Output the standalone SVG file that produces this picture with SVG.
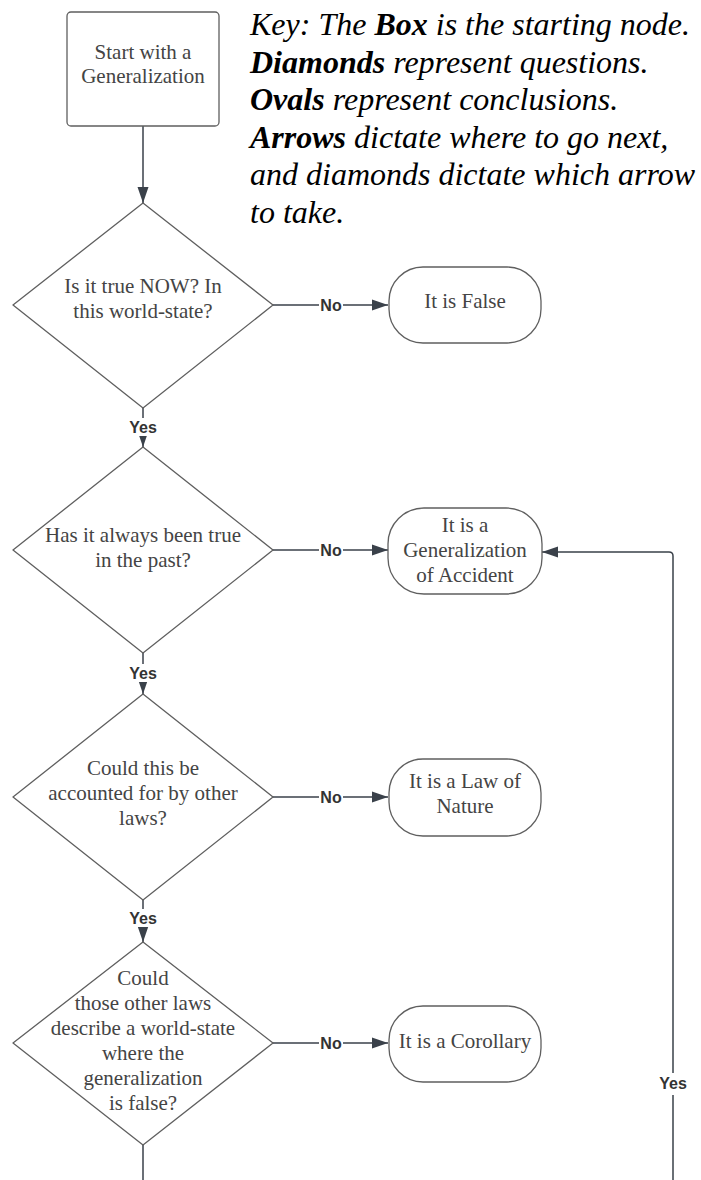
<svg xmlns="http://www.w3.org/2000/svg" width="701" height="1180" viewBox="0 0 701 1180">
<defs>
<style>
.shape{fill:#fff;stroke:#5f5f5f;stroke-width:1.3;stroke-linejoin:round}
.nt{font-family:"Liberation Serif","Times New Roman",serif;font-size:21px;fill:#444;text-anchor:middle}
.conn{fill:none;stroke:#3a414a;stroke-width:1.5}
.lbl{font-family:"Liberation Sans",Arial,sans-serif;font-size:16px;font-weight:bold;fill:#333;text-anchor:middle}
.lbg{fill:#fff}
.key{font-family:"Liberation Serif","Times New Roman",serif;font-size:32px;font-style:italic;fill:#000}
.kb{font-weight:bold}
</style>
<marker id="arr" markerUnits="userSpaceOnUse" markerWidth="16" markerHeight="12" viewBox="0 0 16 12" refX="16" refY="6" orient="auto">
<path d="M0,0.5 L16,6 L0,11.5 Z" fill="#3a414a"/>
</marker>
</defs>

<g id="key">
<text class="key" x="250" y="35">Key: The <tspan class="kb">Box</tspan> is the starting node.</text>
<text class="key" x="250" y="72.5"><tspan class="kb">Diamonds</tspan> represent questions.</text>
<text class="key" x="250" y="110"><tspan class="kb">Ovals</tspan> represent conclusions.</text>
<text class="key" x="250" y="147.5"><tspan class="kb">Arrows</tspan> dictate where to go next,</text>
<text class="key" x="250" y="185">and diamonds dictate which arrow</text>
<text class="key" x="250" y="222.5">to take.</text>
</g>

<g id="connectors">
<path class="conn" d="M143,126 L143,203" marker-end="url(#arr)"/>
<path class="conn" d="M273,305 L388,305" marker-end="url(#arr)"/>
<path class="conn" d="M143,408 L143,447" marker-end="url(#arr)"/>
<path class="conn" d="M273,550 L388,550" marker-end="url(#arr)"/>
<path class="conn" d="M143,653 L143,694" marker-end="url(#arr)"/>
<path class="conn" d="M273,797 L388,797" marker-end="url(#arr)"/>
<path class="conn" d="M143,900 L143,942" marker-end="url(#arr)"/>
<path class="conn" d="M273,1043 L388,1043" marker-end="url(#arr)"/>
<path class="conn" d="M143,1145 L143,1180"/>
<path class="conn" d="M673,1180 L673,556 Q673,552 669,552 L542,552" marker-end="url(#arr)"/>
<g id="labels">
<rect class="lbg" x="319" y="297" width="24" height="16"/><text class="lbl" x="331" y="311">No</text>
<rect class="lbg" x="319" y="542" width="24" height="16"/><text class="lbl" x="331" y="556">No</text>
<rect class="lbg" x="319" y="789" width="24" height="16"/><text class="lbl" x="331" y="803">No</text>
<rect class="lbg" x="319" y="1035" width="24" height="16"/><text class="lbl" x="331" y="1049">No</text>
<rect class="lbg" x="126" y="418" width="34" height="18"/><text class="lbl" x="143" y="433">Yes</text>
<rect class="lbg" x="126" y="664" width="34" height="18"/><text class="lbl" x="143" y="679">Yes</text>
<rect class="lbg" x="126" y="909" width="34" height="18"/><text class="lbl" x="143" y="924">Yes</text>
<rect class="lbg" x="656" y="1073" width="34" height="22"/><text class="lbl" x="673" y="1089">Yes</text>
</g>
</g>

<g id="start">
<rect class="shape" x="67" y="12" width="152" height="114" rx="4"/>
<text class="nt" x="143" y="59">Start with a</text>
<text class="nt" x="143" y="83">Generalization</text>
</g>

<g id="q1">
<path class="shape" d="M143,203 L273,305 L143,408 L13,305 Z"/>
<text class="nt" x="143" y="293">Is it true NOW? In</text>
<text class="nt" x="143" y="318">this world-state?</text>
</g>

<g id="q2">
<path class="shape" d="M143,447 L273,550 L143,653 L13,550 Z"/>
<text class="nt" x="143" y="542">Has it always been true</text>
<text class="nt" x="143" y="567">in the past?</text>
</g>

<g id="q3">
<path class="shape" d="M143,694 L273,797 L143,900 L13,797 Z"/>
<text class="nt" x="143" y="775">Could this be</text>
<text class="nt" x="143" y="800">accounted for by other</text>
<text class="nt" x="143" y="825">laws?</text>
</g>

<g id="q4">
<path class="shape" d="M143,942 L273,1043 L143,1145 L13,1043 Z"/>
<text class="nt" x="143" y="985">Could</text>
<text class="nt" x="143" y="1010">those other laws</text>
<text class="nt" x="143" y="1035">describe a world-state</text>
<text class="nt" x="143" y="1060">where the</text>
<text class="nt" x="143" y="1085">generalization</text>
<text class="nt" x="143" y="1110">is false?</text>
</g>

<g id="false">
<rect class="shape" x="389" y="267" width="152" height="76" rx="34"/>
<text class="nt" x="465" y="308">It is False</text>
</g>

<g id="accident">
<rect class="shape" x="388" y="508" width="154" height="86" rx="36"/>
<text class="nt" x="465" y="532">It is a</text>
<text class="nt" x="465" y="557">Generalization</text>
<text class="nt" x="465" y="582">of Accident</text>
</g>

<g id="law">
<rect class="shape" x="389" y="759" width="152" height="77" rx="34"/>
<text class="nt" x="465" y="788">It is a Law of</text>
<text class="nt" x="465" y="813">Nature</text>
</g>

<g id="corollary">
<rect class="shape" x="389" y="1006" width="152" height="76" rx="34"/>
<text class="nt" x="465" y="1048">It is a Corollary</text>
</g>
</svg>
